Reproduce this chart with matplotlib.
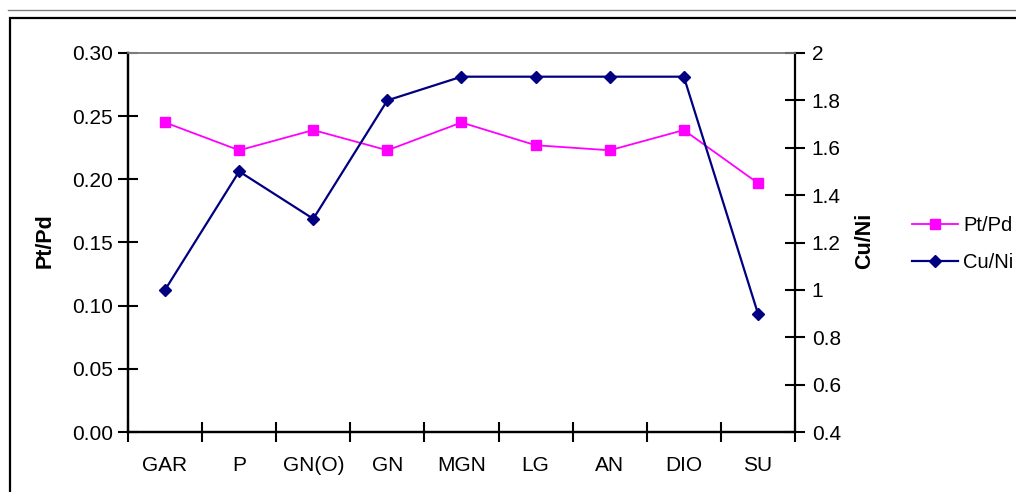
import matplotlib
matplotlib.use("Agg")
import matplotlib.pyplot as plt
from matplotlib.lines import Line2D
from matplotlib.patches import Rectangle

categories = ["GAR", "P", "GN(O)", "GN", "MGN", "LG", "AN", "DIO", "SU"]
pt_pd = [0.245, 0.223, 0.239, 0.223, 0.245, 0.227, 0.223, 0.239, 0.197]
cu_ni = [1.0, 1.5, 1.3, 1.8, 1.9, 1.9, 1.9, 1.9, 0.9]
left_ticks = [0.00, 0.05, 0.10, 0.15, 0.20, 0.25, 0.30]
left_labels = ["0.00", "0.05", "0.10", "0.15", "0.20", "0.25", "0.30"]
right_ticks = [0.4, 0.6, 0.8, 1.0, 1.2, 1.4, 1.6, 1.8, 2.0]
right_labels = ["0.4", "0.6", "0.8", "1", "1.2", "1.4", "1.6", "1.8", "2"]

plt.rcParams['font.family'] = ['Liberation Sans', 'DejaVu Sans']
FS = 15

W, H = 1016, 492
fig = plt.figure(figsize=(W / 100, H / 100), dpi=100)

# outer decorations
fig.add_artist(Line2D([8 / W, 1.0], [1 - 10 / H, 1 - 10 / H], color="#808080", lw=1.0))
fig.add_artist(Rectangle((10 / W, -0.05), 1.1, 1 - 18 / H + 0.05, fill=False,
                         edgecolor="black", lw=1.6, transform=fig.transFigure))

ax = fig.add_axes([128 / W, 1 - 432 / H, (795 - 128) / W, (432 - 53) / H])
ax2 = ax.twinx()

x = list(range(len(categories)))
l1, = ax.plot(x, pt_pd, color="#FF00FF", marker="s", markersize=7, lw=1.3,
              label="Pt/Pd", zorder=3)
l2, = ax2.plot(x, cu_ni, color="#000080", marker="D", markersize=6.5, lw=1.6,
               label="Cu/Ni", zorder=3)

ax.set_xlim(-0.5, len(categories) - 0.5)
ax.set_ylim(0, 0.30)
ax2.set_ylim(0.4, 2.0)

ax.set_xticks([i - 0.5 for i in range(len(categories) + 1)])
ax.set_xticklabels([])
ax.set_xticks(x, minor=True)
ax.set_xticklabels(categories, minor=True, fontsize=FS)
ax.tick_params(axis="x", which="minor", length=0, pad=17)
ax.tick_params(axis="x", which="major", direction="inout", length=14, width=1.5)

ax.set_yticks(left_ticks)
ax.set_yticklabels(left_labels, fontsize=FS)
ax.tick_params(axis="y", direction="inout", length=14, width=1.5, pad=4)

ax2.set_yticks(right_ticks)
ax2.set_yticklabels(right_labels, fontsize=FS)
ax2.tick_params(axis="y", direction="inout", length=14, width=1.5, pad=5)

for a in (ax, ax2):
    a.spines["top"].set_color("#808080")
    a.spines["top"].set_linewidth(1.2)
    for s in ("left", "right", "bottom"):
        a.spines[s].set_linewidth(1.6)
        a.spines[s].set_color("black")
ax.spines["right"].set_visible(False)

ax.set_ylabel("Pt/Pd", fontsize=15.5, fontweight="bold")
ax.yaxis.set_label_coords(-0.109, 0.505)
ax2.set_ylabel("Cu/Ni", fontsize=15.5, fontweight="bold")
ax2.yaxis.set_label_coords(1.088, 0.505)

fig.legend(handles=[l1, l2], loc="center left", bbox_to_anchor=(912 / W, 1 - 244 / H),
           frameon=False, fontsize=14.5, borderpad=0, borderaxespad=0,
           handlelength=2.3, handletextpad=0.25, labelspacing=0.9)

fig.savefig("out.png", dpi=100)
